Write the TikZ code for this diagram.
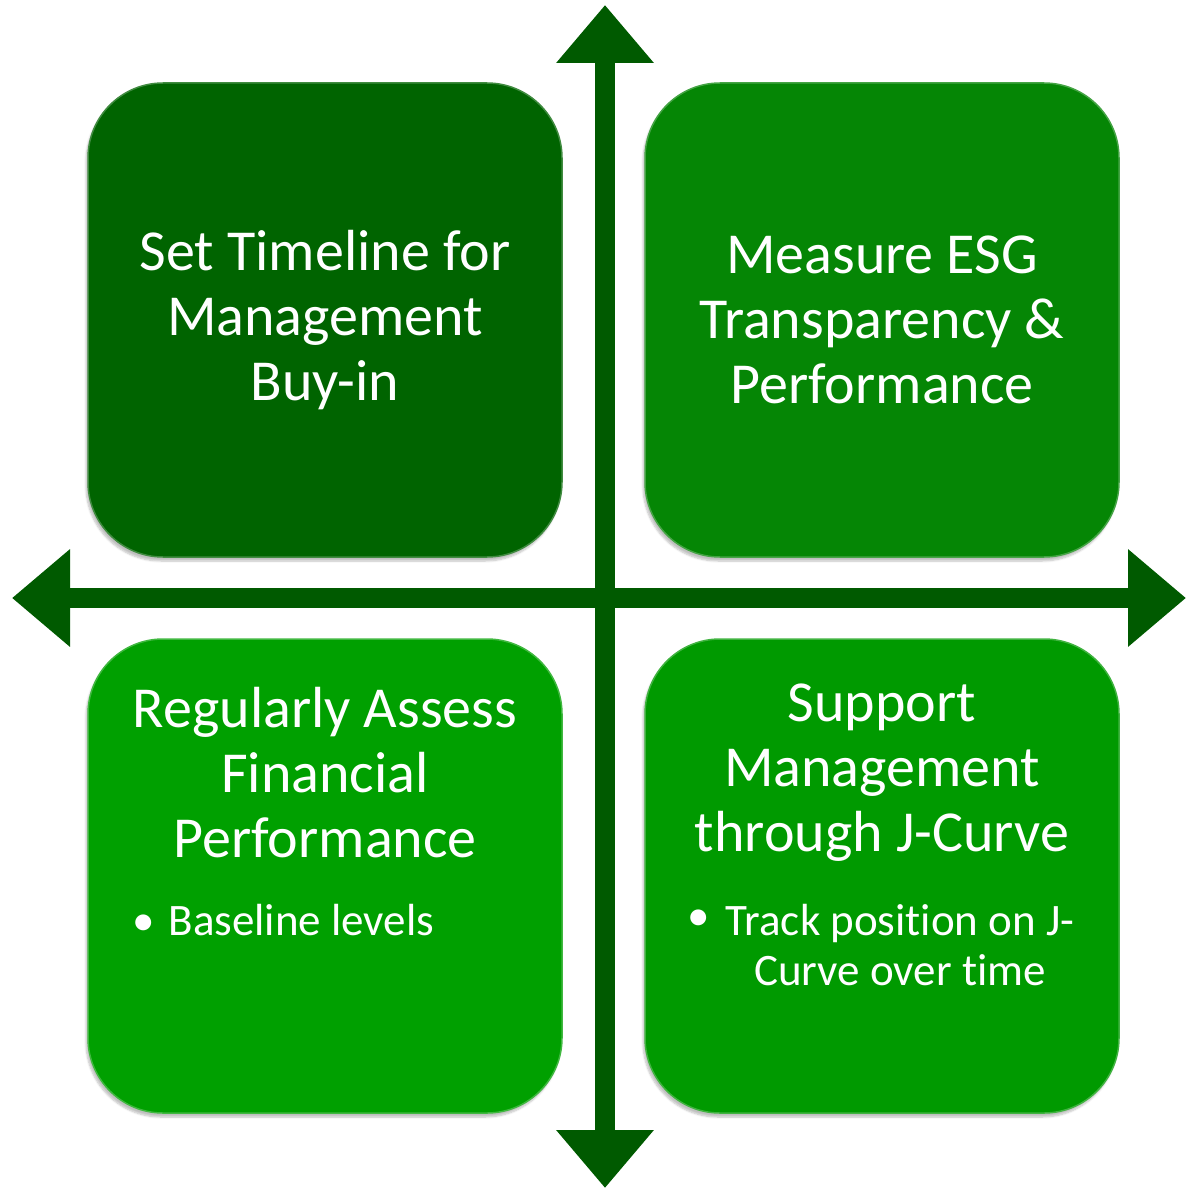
\documentclass[tikz,border=0pt]{standalone}
\usepackage{fontspec}
\setmainfont{Carlito}[Ligatures={NoCommon}]
\usetikzlibrary{arrows.meta,shadows.blur}
\definecolor{tlc}{HTML}{006400}
\definecolor{trc}{HTML}{058605}
\definecolor{blc}{HTML}{00A000}
\definecolor{brc}{HTML}{009A00}
\definecolor{axc}{HTML}{005A00}
\tikzset{
  quad/.style={rectangle, rounded corners=75pt, minimum width=474pt, minimum height=474pt,
    inner sep=0pt, draw=#1!75!white, line width=1.5pt, fill=#1,
    blur shadow={shadow xshift=-2pt, shadow yshift=-4pt, shadow blur steps=6, shadow opacity=25}},
  title/.style={text=white, align=center, font=\fontsize{58}{65}\selectfont, inner sep=0pt},
  bulletxt/.style={text=white, font=\fontsize{45}{50}\selectfont, inner sep=0pt},
  axis/.style={draw=axc, line width=20pt, {Triangle[length=58pt,width=94pt]}-{Triangle[length=58pt,width=94pt]}}
}
\begin{document}
\begin{tikzpicture}[x=1pt,y=-1pt]
\useasboundingbox (0,0) rectangle (1186,1190);
\node[quad=tlc] (tl) at (325,320) {};
\node[quad=trc] (tr) at (882,320) {};
\node[quad=blc] (bl) at (325,876) {};
\node[quad=brc] (br) at (882,876) {};
\coordinate (top) at (605,5);
\coordinate (bot) at (605,1188);
\coordinate (lft) at (12,598);
\coordinate (rgt) at (1186,598);
\draw[axis] (lft) -- (rgt);
\draw[axis] (top) -- (bot);
\node[title] (t1) at (325,320) {Set Timeline for\\Management\\Buy-in};
\node[title] (t2) at (882,320) {Measure ESG\\Transparency \&\\Performance};
\node[title] (t3) at (325,773) {Regularly Assess\\Financial\\Performance};
\node[title] (t4) at (882,773) {Support\\Management\\through J-Curve};
\node[bulletxt, anchor=west] (b3) at (132,920) {•\hspace{14pt}Baseline levels};
\node[bulletxt] (b4d) at (699,920) {•};
\node[bulletxt, align=center] (b4) at (900,945) {Track position on J-\\Curve over time};
\end{tikzpicture}
\end{document}
